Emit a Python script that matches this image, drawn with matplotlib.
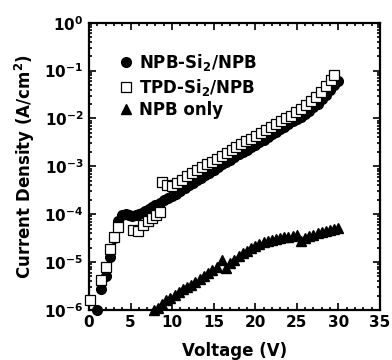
import numpy as np
import matplotlib
matplotlib.use("Agg")
from matplotlib import pyplot as plt
from matplotlib.ticker import MultipleLocator, LogLocator, NullFormatter, FixedLocator

plt.rcParams['font.family'] = ['DejaVu Sans']
plt.rcParams['font.weight'] = 'bold'
plt.rcParams['mathtext.fontset'] = 'dejavusans'
plt.rcParams['mathtext.default'] = 'bf'

# NPB-Si2/NPB (filled circles): voltage, log10 current density
npb_si_v = [1.0, 1.5, 2.0, 2.5, 3.0, 3.5, 4.0, 4.4, 4.8, 5.2, 5.6, 6.0, 6.4, 6.8,
            7.2, 7.6, 8.0, 8.5, 9.0, 9.5, 10.0, 10.5, 11.0, 11.5, 12.0, 12.5,
            13.0, 13.5, 14.0, 14.5, 15.0, 15.5, 16.0, 16.5, 17.0, 17.5, 18.0,
            18.5, 19.0, 19.5, 20.0, 20.5, 21.0, 21.5, 22.0, 22.5, 23.0, 23.5,
            24.0, 24.5, 25.0, 25.5, 26.0, 26.5, 27.0, 27.5, 28.0, 28.5, 29.0,
            29.5, 30.0]
npb_si_log = [-6.0, -5.57, -5.3, -4.9, -4.5, -4.15, -4.02, -4.0, -4.02, -4.04,
              -4.02, -4.0, -3.97, -3.94, -3.9, -3.86, -3.81, -3.76, -3.71, -3.66,
              -3.62, -3.57, -3.52, -3.46, -3.4, -3.35, -3.29, -3.24, -3.18, -3.13,
              -3.07, -3.02, -2.96, -2.91, -2.86, -2.8, -2.75, -2.7, -2.65, -2.6,
              -2.55, -2.5, -2.44, -2.39, -2.33, -2.28, -2.23, -2.17, -2.12, -2.06,
              -2.01, -1.96, -1.9, -1.84, -1.77, -1.69, -1.6, -1.5, -1.4, -1.3,
              -1.22]

# TPD-Si2/NPB (open squares)
tpd_si_v = [0.1, 1.45, 2.05, 2.55, 3.05, 3.55, 5.3, 5.9, 6.5, 7.05, 7.55, 8.05, 8.5,
            8.8, 9.35, 9.95, 10.55, 11.15, 11.75, 12.35, 12.95, 13.55, 14.15, 14.75,
            15.35, 15.95, 16.55, 17.15, 17.75, 18.35, 18.95, 19.55, 20.15, 20.75,
            21.35, 21.95, 22.55, 23.15, 23.75, 24.35, 24.95, 25.55, 26.15, 26.75,
            27.35, 27.95, 28.55, 29.1, 29.5]
tpd_si_log = [-5.8, -5.37, -5.1, -4.73, -4.48, -4.27, -4.33, -4.36, -4.22, -4.15,
              -4.08, -4.01, -3.95, -3.33, -3.38, -3.42, -3.35, -3.28, -3.21, -3.14,
              -3.08, -3.02, -2.96, -2.9, -2.84, -2.78, -2.72, -2.66, -2.6, -2.54,
              -2.48, -2.42, -2.36, -2.3, -2.24, -2.18, -2.12, -2.06, -2.0, -1.94,
              -1.87, -1.8, -1.72, -1.64, -1.55, -1.45, -1.33, -1.2, -1.1]

# NPB only (filled triangles)
npb_v = [7.8, 8.3, 8.8, 9.3, 9.8, 10.3, 10.8, 11.3, 11.8, 12.3, 12.8, 13.3, 13.8,
         14.3, 14.8, 15.4, 16.0, 16.5, 17.0, 17.5, 18.0, 18.5, 19.0, 19.5, 20.0,
         20.5, 21.0, 21.5, 22.0, 22.5, 23.0, 23.5, 24.0, 24.5, 25.0, 25.5, 26.0,
         26.5, 27.0, 27.5, 28.0, 28.5, 29.0, 29.5, 30.0]
npb_log = [-6.0, -5.95, -5.87, -5.8, -5.74, -5.68, -5.62, -5.57, -5.52, -5.47, -5.41,
           -5.35, -5.29, -5.23, -5.17, -5.11, -4.95, -5.12, -5.02, -4.95, -4.88,
           -4.82, -4.76, -4.71, -4.66, -4.62, -4.59, -4.56, -4.54, -4.52, -4.5,
           -4.48, -4.47, -4.45, -4.43, -4.56, -4.5, -4.46, -4.43, -4.4, -4.38,
           -4.35, -4.33, -4.31, -4.29]

x_ticks = [0, 5, 10, 15, 20, 25, 30, 35]
y_ticks = [1e-6, 1e-5, 1e-4, 1e-3, 1e-2, 1e-1, 1e0]
y_tick_labels = ['10$^{-6}$', '10$^{-5}$', '10$^{-4}$', '10$^{-3}$', '10$^{-2}$',
                 '10$^{-1}$', '10$^{0}$']

fig = plt.figure(figsize=(3.92, 3.6), dpi=100)
ax = fig.add_axes([0.227, 0.139, 0.742, 0.798])

ax.plot(npb_si_v, 10 ** np.array(npb_si_log), 'o', color='black', ms=7,
        clip_on=False, label='NPB-Si$_2$/NPB', zorder=3)
ax.plot(tpd_si_v, 10 ** np.array(tpd_si_log), 's', mfc='white', mec='black', mew=0.9,
        ms=7, clip_on=False, label='TPD-Si$_2$/NPB', zorder=4)
ax.plot(npb_v, 10 ** np.array(npb_log), '^', color='black', ms=7.5,
        clip_on=False, label='NPB only', zorder=3)

ax.set_yscale('log')
ax.set_xlim(0, 35)
ax.set_ylim(1e-6, 1)
ax.xaxis.set_major_locator(FixedLocator(x_ticks))
ax.xaxis.set_minor_locator(MultipleLocator(1))
ax.set_yticks(y_ticks)
ax.set_yticklabels(y_tick_labels)
ax.yaxis.set_minor_locator(LogLocator(base=10, subs=np.arange(2, 10)))
ax.yaxis.set_minor_formatter(NullFormatter())

ax.tick_params(which='both', direction='in', top=True, right=True, width=1.2,
               labelsize=11)
ax.tick_params(which='major', length=5)
ax.tick_params(which='minor', length=2.5)
ax.tick_params(axis='y', which='major', pad=4)
for s in ax.spines.values():
    s.set_linewidth(1.6)

ax.set_xlabel('Voltage (V)', fontsize=12, fontweight='bold', labelpad=9)
ax.set_ylabel('Current Density (A/cm$^2$)', fontsize=12, fontweight='bold',
              labelpad=5)

ax.legend(loc='upper left', bbox_to_anchor=(0.07, 0.92), frameon=False,
          fontsize=12, handletextpad=0.2, labelspacing=0.2, borderaxespad=0,
          handlelength=1.2)

fig.savefig('out.png', dpi=100)
